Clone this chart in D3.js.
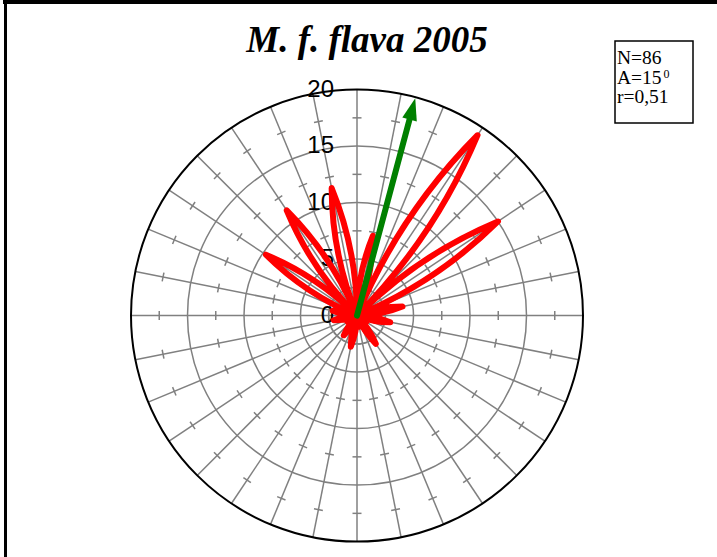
<!DOCTYPE html>
<html>
<head>
<meta charset="utf-8">
<script src="https://cdn.jsdelivr.net/npm/d3@7"></script>
<style>
  html, body { margin: 0; padding: 0; background: #fff; }
  svg { display: block; }
</style>
</head>
<body>
<svg id="chart" width="717" height="557"></svg>
<script>
// Direction bins (degrees, clockwise from north) and share of records per bin (%)
const directionDeg = [11.25, 33.75, 56.25, 78.75, 101.25, 123.75, 146.25, 168.75,
                      191.25, 213.75, 236.25, 258.75, 281.25, 303.75, 326.25, 348.75];
const percentValues = [7.2, 19.2, 15.0, 4.1, 3.0, 1.0, 3.0, 1.0,
                       2.8, 2.1, 1.0, 2.1, 2.2, 9.7, 11.2, 11.5];

// Radial axis
const radialTicks = [0, 5, 10, 15, 20];
const minorTicks = [2.5, 7.5, 12.5, 17.5];
const spokeStep = 11.25;

// Mean direction vector
const meanAngleDeg = 15;
const meanArrowLength = 20;

// Summary box
const statN = "N=86";
const statA = "A=15";
const statR = "r=0,51";
const titleText = "M. f. flava 2005";

const svg = d3.select("#chart");
const cx = 357, cy = 315.6, R = 226;
const rad = d => d * Math.PI / 180;

const r = d3.scaleLinear().domain([0, 20]).range([0, R]);

// outer frame
svg.append("line").attr("x1", 3).attr("x2", 717).attr("y1", 2).attr("y2", 2)
  .attr("stroke", "#000").attr("stroke-width", 4);
svg.append("line").attr("x1", 5.5).attr("x2", 5.5).attr("y1", 0).attr("y2", 557)
  .attr("stroke", "#000").attr("stroke-width", 3);

// title
svg.append("text")
  .attr("x", 367).attr("y", 52)
  .attr("text-anchor", "middle")
  .attr("font-family", "'Liberation Serif', 'Times New Roman', serif")
  .attr("font-style", "italic").attr("font-weight", "bold")
  .attr("font-size", 37)
  .text(titleText);

// summary box
const box = svg.append("g").attr("transform", "translate(615,41)");
box.append("rect").attr("width", 78).attr("height", 82)
  .attr("fill", "#fff").attr("stroke", "#000").attr("stroke-width", 1.5);
const statFont = "'Liberation Serif', 'Times New Roman', serif";
box.append("text").attr("x", 2).attr("y", 23).attr("font-family", statFont)
  .attr("font-size", 19.5).text(statN);
const aText = box.append("text").attr("x", 2).attr("y", 42.5).attr("font-family", statFont)
  .attr("font-size", 19.5).text(statA);
aText.append("tspan").attr("font-size", 12).attr("dy", -6).attr("dx", 2).text("0");
box.append("text").attr("x", 2).attr("y", 62).attr("font-family", statFont)
  .attr("font-size", 19.5).text(statR);

const g = svg.append("g").attr("transform", `translate(${cx},${cy})`);

// grid rings
g.selectAll("circle.ring")
  .data(radialTicks.filter(v => v > 0 && v < 20))
  .join("circle").attr("class", "ring")
  .attr("r", d => r(d))
  .attr("fill", "none").attr("stroke", "#808080").attr("stroke-width", 1.5);

// spokes
const spokes = d3.range(0, 360, spokeStep);
g.selectAll("line.spoke")
  .data(spokes)
  .join("line").attr("class", "spoke")
  .attr("x1", 0).attr("y1", 0)
  .attr("x2", d => r(20) * Math.sin(rad(d)))
  .attr("y2", d => -r(20) * Math.cos(rad(d)))
  .attr("stroke", "#808080").attr("stroke-width", 1.5);

// minor tick marks across each spoke
const tickHalf = 4.5;
const tickData = [];
spokes.forEach(a => minorTicks.forEach(t => tickData.push({ a, t })));
g.selectAll("line.mtick")
  .data(tickData)
  .join("line").attr("class", "mtick")
  .attr("x1", d => r(d.t) * Math.sin(rad(d.a)) - tickHalf * Math.cos(rad(d.a)))
  .attr("y1", d => -r(d.t) * Math.cos(rad(d.a)) - tickHalf * Math.sin(rad(d.a)))
  .attr("x2", d => r(d.t) * Math.sin(rad(d.a)) + tickHalf * Math.cos(rad(d.a)))
  .attr("y2", d => -r(d.t) * Math.cos(rad(d.a)) + tickHalf * Math.sin(rad(d.a)))
  .attr("stroke", "#808080").attr("stroke-width", 1.5);

// outer circle
g.append("circle").attr("r", r(20))
  .attr("fill", "none").attr("stroke", "#000").attr("stroke-width", 2);

// radial axis labels
g.selectAll("text.rlabel")
  .data(radialTicks)
  .join("text").attr("class", "rlabel")
  .attr("x", -23).attr("y", d => -r(d) + 1)
  .attr("text-anchor", "end").attr("dominant-baseline", "middle")
  .attr("font-family", "'Liberation Sans', Arial, sans-serif")
  .attr("font-size", 24)
  .text(d => d);

// rose: one pointed leaf per bin, out from the centre to the bin value and back
const leafWidth = 0.065;
const path = d3.path();
path.moveTo(0, 0);
directionDeg.forEach((a, i) => {
  const L = r(percentValues[i]);
  const ux = Math.sin(rad(a)), uy = -Math.cos(rad(a));
  const nx = -uy, ny = ux;
  const h = leafWidth * L;
  path.bezierCurveTo(ux * L / 3 + nx * h, uy * L / 3 + ny * h,
                     ux * 2 * L / 3 + nx * h, uy * 2 * L / 3 + ny * h,
                     ux * L, uy * L);
  path.bezierCurveTo(ux * 2 * L / 3 - nx * h, uy * 2 * L / 3 - ny * h,
                     ux * L / 3 - nx * h, uy * L / 3 - ny * h,
                     0, 0);
});
path.closePath();
g.append("path")
  .attr("d", path.toString())
  .attr("fill", "none").attr("stroke", "#ff0000")
  .attr("stroke-width", 6).attr("stroke-linejoin", "round");

// mean direction arrow
const headLen = 22, headHalf = 7.5;
const ua = rad(meanAngleDeg);
const ax = Math.sin(ua), ay = -Math.cos(ua);
const tipR = r(meanArrowLength) - 1;
const baseR = tipR - headLen;
g.append("line")
  .attr("x1", 0).attr("y1", 0)
  .attr("x2", (baseR + 2) * ax).attr("y2", (baseR + 2) * ay)
  .attr("stroke", "#008000").attr("stroke-width", 6).attr("stroke-linecap", "round");
g.append("path")
  .attr("d", d3.line()([
    [tipR * ax, tipR * ay],
    [baseR * ax - headHalf * ay, baseR * ay + headHalf * ax],
    [baseR * ax + headHalf * ay, baseR * ay - headHalf * ax]
  ]) + "Z")
  .attr("fill", "#008000");
</script>
</body>
</html>
